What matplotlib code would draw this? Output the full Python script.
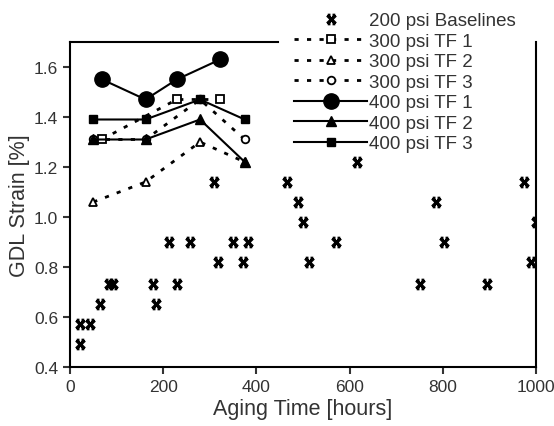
import matplotlib
matplotlib.use('Agg')
import matplotlib.pyplot as plt
from matplotlib.path import Path

plt.rcParams['font.family'] = ['Liberation Sans', 'DejaVu Sans']

# 200 psi baselines
base_x = [22, 22, 43, 64, 84, 92, 177, 184, 213, 230, 257, 308, 317, 350, 372, 383,
          466, 490, 501, 513, 571, 615, 752, 785, 803, 895, 974, 989, 999]
base_y = [0.49, 0.57, 0.57, 0.65, 0.73, 0.73, 0.73, 0.65, 0.90, 0.73, 0.90, 1.14, 0.82, 0.90,
          0.82, 0.90, 1.14, 1.06, 0.98, 0.82, 0.90, 1.22, 0.73, 1.06, 0.90, 0.73, 1.14, 0.82, 0.98]

# 300 psi
tf300_1_x = [68, 229, 322]
tf300_1_y = [1.31, 1.47, 1.47]
tf300_2_x = [50, 162, 279, 375]
tf300_2_y = [1.06, 1.14, 1.30, 1.22]
tf300_3_x = [50, 162, 279, 375]
tf300_3_y = [1.31, 1.31, 1.47, 1.31]

# 400 psi
tf400_1_x = [69, 162, 229, 322]
tf400_1_y = [1.55, 1.47, 1.55, 1.63]
tf400_2_x = [50, 162, 279, 375]
tf400_2_y = [1.31, 1.31, 1.39, 1.22]
tf400_3_x = [50, 162, 279, 375]
tf400_3_y = [1.39, 1.39, 1.47, 1.39]

# x mark with flat caps
star = Path([(-1, -1), (1, 1), (-1, 1), (1, -1),
             (-0.9, 1), (-0.25, 1), (0.25, 1), (0.9, 1),
             (-0.9, -1), (-0.25, -1), (0.25, -1), (0.9, -1)],
            [Path.MOVETO, Path.LINETO, Path.MOVETO, Path.LINETO,
             Path.MOVETO, Path.LINETO, Path.MOVETO, Path.LINETO,
             Path.MOVETO, Path.LINETO, Path.MOVETO, Path.LINETO])

fig = plt.figure(figsize=(5.54, 4.27), dpi=100)
ax = fig.add_axes([0.1264, 0.1382, 0.8411, 0.7611])

dash = (0, (1.5, 3))
k = 'black'

ax.plot(base_x, base_y, ls='none', marker=star, ms=6, mew=2.4, color=k,
        label='200 psi Baselines')
ax.plot(tf300_1_x, tf300_1_y, ls=dash, lw=2, color=k, marker='s', ms=5.5,
        mfc='white', mew=1.3, label='300 psi TF 1')
ax.plot(tf300_2_x, tf300_2_y, ls=dash, lw=2, color=k, marker='^', ms=6,
        mfc='white', mew=1.3, label='300 psi TF 2')
ax.plot(tf300_3_x, tf300_3_y, ls=dash, lw=2, color=k, marker='o', ms=5.5,
        mfc='white', mew=1.3, label='300 psi TF 3')
ax.plot(tf400_1_x, tf400_1_y, ls='-', lw=1.5, color=k, marker='o', ms=11,
        label='400 psi TF 1')
ax.plot(tf400_2_x, tf400_2_y, ls='-', lw=1.5, color=k, marker='^', ms=7,
        label='400 psi TF 2')
ax.plot(tf400_3_x, tf400_3_y, ls='-', lw=1.5, color=k, marker='s', ms=6,
        label='400 psi TF 3')

ax.set_xlim(0, 1000)
ax.set_ylim(0.4, 1.7)
ax.set_xticks([0, 200, 400, 600, 800, 1000])
ax.set_yticks([0.4, 0.6, 0.8, 1.0, 1.2, 1.4, 1.6])
ax.set_yticklabels(['0.4', '0.6', '0.8', '1.0', '1.2', '1.4', '1.6'])
ax.tick_params(direction='out', length=5, width=1.5, labelsize=12.5, colors='#333333',
               labelcolor='#333333')
for s in ax.spines.values():
    s.set_linewidth(1.5)
ax.spines['top'].set_bounds(0, 446)

ax.set_xlabel('Aging Time [hours]', fontsize=15.5, color='#333333', labelpad=3)
ax.set_ylabel('GDL Strain [%]', fontsize=15.5, color='#333333', labelpad=3)

leg = fig.legend(loc='upper left', bbox_to_anchor=(0.507, 1.0), frameon=False,
                 fontsize=13.5, handlelength=3.9, handletextpad=0.1, labelspacing=0.18,
                 borderpad=0.2)
for t in leg.get_texts():
    t.set_color('#333333')

fig.savefig('out.png', dpi=100)
